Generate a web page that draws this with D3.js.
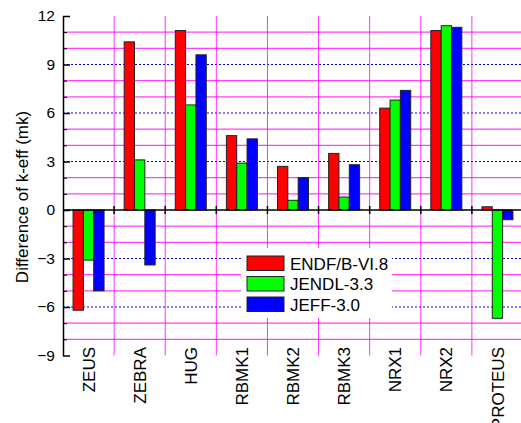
<!DOCTYPE html>
<html>
<head>
<meta charset="utf-8">
<script src="https://cdn.jsdelivr.net/npm/d3@7"></script>
<style>
  body { margin: 0; background: #fff; }
  text { font-family: "Liberation Sans", Arial, sans-serif; fill: #000; }
</style>
</head>
<body>
<div id="chart"></div>
<script>
// data
var categories = ["ZEUS", "ZEBRA", "HUG", "RBMK1", "RBMK2", "RBMK3", "NRX1", "NRX2", "PROTEUS"];
var seriesNames = ["ENDF/B-VI.8", "JENDL-3.3", "JEFF-3.0"];
var seriesColors = ["#ff0000", "#00ff00", "#0000ff"];
var endfValues = [-6.2, 10.4, 11.1, 4.6, 2.7, 3.5, 6.3, 11.1, 0.2];
var jendlValues = [-3.1, 3.1, 6.5, 2.9, 0.6, 0.8, 6.8, 11.4, -6.7];
var jeffValues = [-5.0, -3.4, 9.6, 4.4, 2.0, 2.8, 7.4, 11.3, -0.6];
var majorTicks = [12, 9, 6, 3, 0, -3, -6, -9];
var minorTicks = [11, 10, 8, 7, 5, 4, 2, 1, -1, -2, -4, -5, -7, -8];

var svgWidth = 521;
var svgHeight = 423;

var svg = d3.select("#chart").append("svg")
    .attr("width", svgWidth)
    .attr("height", svgHeight);

// scales
var xScale = d3.scaleBand()
    .domain(categories)
    .range([63, 523])
    .padding(0);

var yScale = d3.scaleLinear()
    .domain([-9, 12])
    .range([355.5, 16]);

var groupWidth = 31;
var xSub = d3.scaleBand()
    .domain(seriesNames)
    .range([0, groupWidth])
    .padding(0);

// minor grid lines (magenta)
svg.append("g").selectAll("line")
    .data(minorTicks)
    .enter()
    .append("line")
    .attr("x1", 63)
    .attr("x2", svgWidth)
    .attr("y1", d => yScale(d))
    .attr("y2", d => yScale(d))
    .attr("stroke", "#ff00ff")
    .attr("stroke-opacity", 0.75)
    .attr("stroke-width", 1.2);

// major grid lines (blue dotted)
svg.append("g").selectAll("line")
    .data(majorTicks.filter(d => d !== 0 && d !== 12 && d !== -9))
    .enter()
    .append("line")
    .attr("x1", 63)
    .attr("x2", svgWidth)
    .attr("y1", d => yScale(d))
    .attr("y2", d => yScale(d))
    .attr("stroke", "#0000ff")
    .attr("stroke-width", 1)
    .attr("stroke-dasharray", "2,2");

// vertical grid lines between categories
svg.append("g").selectAll("line")
    .data(categories.slice(1))
    .enter()
    .append("line")
    .attr("x1", d => xScale(d))
    .attr("x2", d => xScale(d))
    .attr("y1", yScale(12))
    .attr("y2", yScale(-9))
    .attr("stroke", "#ff00ff")
    .attr("stroke-opacity", 0.8)
    .attr("stroke-width", 1);

// legend background hides the grid
svg.append("rect")
    .attr("x", 241)
    .attr("y", 248)
    .attr("width", 151)
    .attr("height", 70)
    .attr("fill", "#fff");

// bars
var tableRows = categories.map(function(c, i) {
    return { cat: c, values: [endfValues[i], jendlValues[i], jeffValues[i]] };
});

var groups = svg.append("g").selectAll("g")
    .data(tableRows)
    .enter()
    .append("g")
    .attr("transform", d => `translate(${xScale(d.cat) + (xScale.bandwidth() - groupWidth) / 2}, 0)`);

groups.selectAll("rect")
    .data(d => d.values.map((v, j) => ({ name: seriesNames[j], value: v, color: seriesColors[j] })))
    .enter()
    .append("rect")
    .attr("x", d => xSub(d.name))
    .attr("y", d => yScale(Math.max(0, d.value)))
    .attr("width", xSub.bandwidth())
    .attr("height", d => Math.abs(yScale(d.value) - yScale(0)))
    .attr("fill", d => d.color)
    .attr("stroke", "#222")
    .attr("stroke-width", 1);

// x axis along zero
var zeroAxis = d3.axisBottom(xScale)
    .tickValues([])
    .tickSizeOuter(0);

svg.append("g")
    .attr("transform", `translate(0, ${yScale(0)})`)
    .call(zeroAxis)
    .call(g => g.select(".domain").attr("stroke", "#000").attr("stroke-width", 1.5).attr("d", `M63,0H${svgWidth}`));

// crossing ticks on the zero line
svg.append("g").selectAll("line")
    .data(categories.slice(1))
    .enter()
    .append("line")
    .attr("x1", d => xScale(d))
    .attr("x2", d => xScale(d))
    .attr("y1", yScale(0) - 4)
    .attr("y2", yScale(0) + 4)
    .attr("stroke", "#000")
    .attr("stroke-width", 1.5);

// y axis with inward ticks
var yAxis = d3.axisLeft(yScale)
    .tickValues(majorTicks)
    .tickSizeInner(-7)
    .tickSizeOuter(0)
    .tickPadding(15)
    .tickFormat(d3.format("d"));

var yAxisGroup = svg.append("g")
    .attr("transform", "translate(63, 0)")
    .call(yAxis);

yAxisGroup.select(".domain").attr("stroke-width", 1.5);
yAxisGroup.selectAll(".tick line").attr("stroke-width", 1.5);
yAxisGroup.selectAll(".tick text")
    .attr("font-size", "15.5px")
    .attr("x", -8);

var yMinorAxis = d3.axisLeft(yScale)
    .tickValues(minorTicks)
    .tickSizeInner(-4)
    .tickSizeOuter(0)
    .tickFormat("");

svg.append("g")
    .attr("transform", "translate(63, 0)")
    .call(yMinorAxis)
    .call(g => g.select(".domain").remove());

// category labels, rotated
svg.append("g").selectAll("text")
    .data(categories)
    .enter()
    .append("text")
    .attr("transform", d => `translate(${xScale(d) + xScale.bandwidth() / 2}, 347) rotate(-90)`)
    .attr("text-anchor", "end")
    .attr("dy", "0.36em")
    .attr("font-size", "17px")
    .text(d => d);

// y label
svg.append("text")
    .attr("transform", "translate(22, 197) rotate(-90)")
    .attr("text-anchor", "middle")
    .attr("dy", "0.36em")
    .attr("font-size", "17px")
    .text("Difference of k-eff (mk)");

// legend
var legend = svg.append("g").selectAll("g")
    .data(seriesNames)
    .enter()
    .append("g")
    .attr("transform", (d, i) => `translate(247, ${256 + i * 20.5})`);

legend.append("rect")
    .attr("width", 37)
    .attr("height", 14.5)
    .attr("fill", (d, i) => seriesColors[i])
    .attr("stroke", "#222")
    .attr("stroke-width", 1);

legend.append("text")
    .attr("x", 43)
    .attr("y", 7.5)
    .attr("dy", "0.36em")
    .attr("font-size", "17px")
    .text(d => d);
</script>
</body>
</html>
